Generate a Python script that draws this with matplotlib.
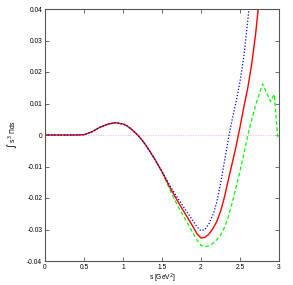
import matplotlib
matplotlib.use("Agg")
import matplotlib.pyplot as plt

# values
s_low = [0.0, 0.1, 0.2, 0.3, 0.4, 0.5, 0.6, 0.7, 0.8, 0.9, 1.0, 1.05, 1.1, 1.15,
         1.2, 1.25, 1.3, 1.35, 1.4, 1.45]
low_vals = [0.0, 0.0, 0.0, 0.0, 0.0, 0.0001, 0.0010, 0.0024, 0.0034, 0.0039,
            0.0035, 0.0029, 0.0020, 0.0009, -0.0003, -0.0018, -0.0035, -0.0054,
            -0.0074, -0.0095]

s_blue = s_low + [1.5, 1.55, 1.6, 1.7, 1.8, 1.9, 1.95, 2.0, 2.05, 2.1, 2.16, 2.2,
                  2.25, 2.3, 2.36, 2.4, 2.45, 2.5, 2.55, 2.6, 2.65]
blue_vals = low_vals + [-0.0115, -0.0138, -0.0160, -0.0200, -0.0237, -0.0273, -0.0292,
                        -0.0304, -0.0300, -0.0283, -0.0249, -0.0215, -0.0155, -0.0085,
                        0.0, 0.0050, 0.0105, 0.0170, 0.0250, 0.0365, 0.0480]

s_red = s_low + [1.5, 1.55, 1.6, 1.7, 1.8, 1.9, 1.95, 2.0, 2.05, 2.1, 2.15, 2.2,
                 2.25, 2.3, 2.35, 2.4, 2.45, 2.5, 2.55, 2.6, 2.65, 2.7, 2.75, 2.8]
red_vals = low_vals + [-0.0117, -0.0141, -0.0166, -0.0210, -0.0251, -0.0292, -0.0314,
                       -0.0327, -0.0325, -0.0315, -0.0298, -0.0276, -0.0243, -0.0198,
                       -0.0143, -0.0090, -0.0035, 0.0025, 0.0090, 0.0150, 0.0225,
                       0.0320, 0.0440, 0.0550]

s_green = s_low + [1.5, 1.55, 1.6, 1.7, 1.8, 1.9, 1.95, 2.0, 2.05, 2.1, 2.15, 2.2,
                   2.25, 2.3, 2.35, 2.4, 2.45, 2.5, 2.55, 2.6, 2.7, 2.79, 2.84,
                   2.89, 2.94, 2.97, 2.99]
green_vals = low_vals + [-0.0119, -0.0145, -0.0174, -0.0224, -0.0268, -0.0312, -0.0335,
                         -0.0350, -0.0355, -0.0352, -0.0345, -0.0333, -0.0318, -0.0294,
                         -0.0260, -0.0215, -0.0165, -0.0115, -0.0060, 0.0, 0.0095,
                         0.0162, 0.0135, 0.0106, 0.0129, 0.0030, -0.0016]

s_ticks = [0, 0.5, 1, 1.5, 2, 2.5, 3]
y_ticks = [-0.04, -0.03, -0.02, -0.01, 0, 0.01, 0.02, 0.03, 0.04]
y_labels = ["-0.04", "-0.03", "-0.02", "-0.01", "0", "0.01", "0.02", "0.03", "0.04"]

plt.rcParams['font.family'] = ['Liberation Sans', 'DejaVu Sans']

fig = plt.figure(figsize=(2.93, 2.85), dpi=100)
ax = fig.add_axes([45 / 293, 1 - 261 / 285, 234 / 293, 252 / 285])

# dotted zero axis
ax.axhline(0, color='#ffaaff', lw=0.6, ls=(0, (1.5, 1.5)))
ax.plot(s_green, green_vals, color='#00ff00', lw=0.9, ls=(0, (3, 2)))
ax.plot(s_red, red_vals, color='#ff0000', lw=1.0)
ax.plot(s_blue, blue_vals, color='#0000ff', lw=0.9, ls=(0, (1, 1.5)))

ax.set_xlim(0, 3)
ax.set_ylim(-0.04, 0.04)
ax.set_xticks(s_ticks)
ax.set_xticklabels([str(t) for t in s_ticks])
ax.set_yticks(y_ticks)
ax.set_yticklabels(y_labels)
ax.tick_params(direction='in', length=3, width=0.6, color='#555555',
               labelsize=4.8, top=True, right=True, pad=2)
for sp in ax.spines.values():
    sp.set_color('#555555')
    sp.set_linewidth(0.8)

ax.set_xlabel(r's [GeV$^2$]', fontsize=4.8, labelpad=1)
ax.set_ylabel(r'$\int$ s$^3$ $\Pi$ds', fontsize=4.8, labelpad=6)

fig.savefig('out.png', dpi=100)
